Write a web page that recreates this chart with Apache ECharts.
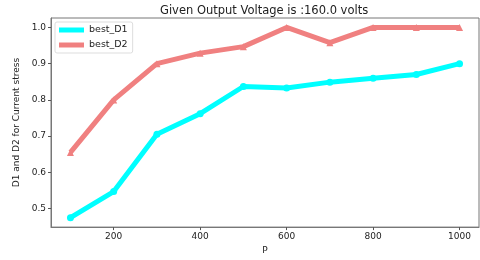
<!DOCTYPE html>
<html><head><meta charset="utf-8">
<script src="https://cdn.jsdelivr.net/npm/echarts@6/dist/echarts.min.js"></script>
<style>html,body{margin:0;padding:0;background:#fff}#c{width:480px;height:260px}</style>
</head><body><div id="c"></div>
<script>
const P = [100, 200, 300, 400, 500, 600, 700, 800, 900, 1000];
const bestD1 = [0.475, 0.547, 0.705, 0.762, 0.837, 0.833, 0.849, 0.860, 0.870, 0.900];
const bestD2 = [0.655, 0.800, 0.900, 0.929, 0.947, 1.000, 0.958, 1.000, 1.000, 1.000];
const xTicks = [200, 400, 600, 800, 1000];
const yTicks = [0.5, 0.6, 0.7, 0.8, 0.9, 1.0];

const font = 'DejaVu Sans';
const chart = echarts.init(document.getElementById('c'), null, {renderer: 'canvas'});
chart.setOption({
  animation: false,
  textStyle: {fontFamily: font},
  title: {text: 'Given Output Voltage is :160.0 volts', left: 160, top: 5, padding: 0,
    textStyle: {fontFamily: font, fontSize: 11.5, fontWeight: 'normal', color: '#222'}},
  grid: {left: 51, right: 1, top: 18, bottom: 27, show: true, borderColor: '#777', borderWidth: 1},
  legend: {left: 55, top: 22, orient: 'vertical', itemWidth: 25, itemHeight: 5, itemGap: 5,
    padding: [3, 5, 3, 4], borderColor: '#ddd', borderWidth: 1, borderRadius: 2,
    textStyle: {fontFamily: font, fontSize: 9.5, color: '#222'},
    data: [{name: 'best_D1', icon: 'rect'}, {name: 'best_D2', icon: 'rect'}]},
  xAxis: {type: 'value', min: 55, max: 1045,
    name: 'P', nameLocation: 'middle', nameGap: 18,
    nameTextStyle: {fontFamily: font, fontSize: 9, color: '#222'},
    axisLine: {show: true, onZero: false, lineStyle: {color: '#777'}},
    axisTick: {show: true, customValues: xTicks, length: 3, lineStyle: {color: '#555'}},
    axisLabel: {customValues: xTicks, fontFamily: font, fontSize: 9, color: '#222', margin: 5,
      formatter: v => String(v)},
    splitLine: {show: false}},
  yAxis: {type: 'value', min: 0.449, max: 1.026,
    name: 'D1 and D2 for Current stress', nameLocation: 'middle', nameGap: 29, nameRotate: 90,
    nameTextStyle: {fontFamily: font, fontSize: 9, color: '#222'},
    axisLine: {show: true, onZero: false, lineStyle: {color: '#777'}},
    axisTick: {show: true, customValues: yTicks, length: 3, lineStyle: {color: '#555'}},
    axisLabel: {customValues: yTicks, fontFamily: font, fontSize: 9, color: '#222', margin: 5,
      formatter: v => v.toFixed(1)},
    splitLine: {show: false}},
  series: [
    {name: 'best_D1', type: 'line', data: P.map((p, i) => [p, bestD1[i]]),
      color: '#00ffff', lineStyle: {width: 5, color: '#00ffff'},
      symbol: 'circle', symbolSize: 7, itemStyle: {color: '#00ffff'}},
    {name: 'best_D2', type: 'line', data: P.map((p, i) => [p, bestD2[i]]),
      color: '#f08080', lineStyle: {width: 5, color: '#f08080'},
      symbol: 'triangle', symbolSize: 7, itemStyle: {color: '#f08080'}}
  ]
});
</script></body></html>
